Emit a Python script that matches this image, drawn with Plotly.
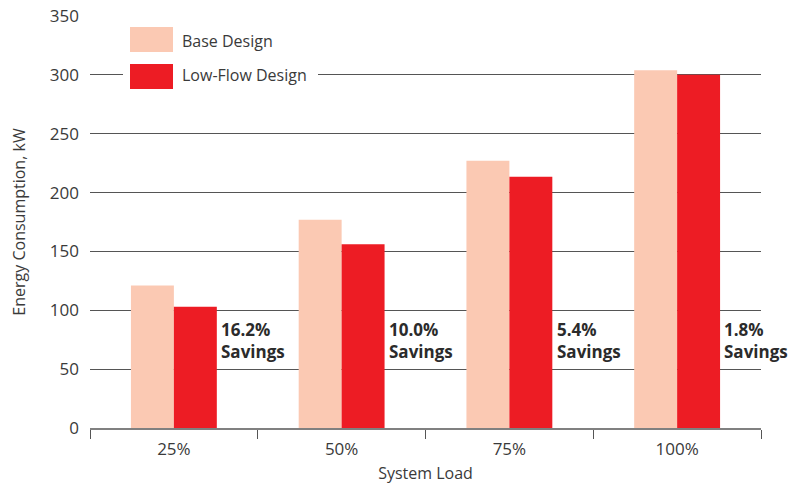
import plotly.graph_objects as go

categories = ["25%", "50%", "75%", "100%"]
base_design = [121, 177, 227, 304]
low_flow_design = [103, 156, 213.5, 300]
savings_labels = ["16.2%<br>Savings", "10.0%<br>Savings", "5.4%<br>Savings", "1.8%<br>Savings"]
series_names = ["Base Design", "Low-Flow Design"]
series_colors = ["#FBC9B3", "#ED1C24"]
y_ticks = [0, 50, 100, 150, 200, 250, 300, 350]

FONT = "Open Sans"
TXT = "#3a3a3a"

W, H = 791, 484
L, R, T, B = 90, 30, 16, 56
PW, PH = W - L - R, H - T - B

def px(x):
    return (x - L) / PW

def py(y):
    return (H - B - y) / PH

fig = go.Figure()
for name, vals, col in zip(series_names, [base_design, low_flow_design], series_colors):
    fig.add_trace(go.Bar(x=categories, y=vals, name=name, marker_color=col,
                         marker_line_width=0, showlegend=False))

annotations = []
for i, lab in enumerate(savings_labels):
    annotations.append(dict(x=i + 0.27, y=74, xref="x", yref="y", text=lab, showarrow=False,
                            xanchor="left", yanchor="middle", align="left",
                            font=dict(family=FONT, size=17, color="#2b2b2b", weight="bold")))

shapes = []
# legend background (hides gridline)
shapes.append(dict(type="rect", xref="paper", yref="paper", x0=px(123), x1=px(318), y0=py(95), y1=py(20),
                   fillcolor="white", line_width=0, layer="above"))
legend_rows = [(27, 52, 41), (64, 89, 75)]
for (y0, y1, yc), name, col in zip(legend_rows, series_names, series_colors):
    shapes.append(dict(type="rect", xref="paper", yref="paper", x0=px(130), x1=px(173), y0=py(y1), y1=py(y0),
                       fillcolor=col, line_width=0, layer="above"))
    annotations.append(dict(x=px(180), y=py(yc), xref="paper", yref="paper", text=name, showarrow=False,
                            xanchor="left", yanchor="middle",
                            font=dict(family=FONT, size=16, color=TXT)))

fig.update_layout(
    width=W, height=H,
    margin=dict(l=L, r=R, t=T, b=B),
    barmode="group", bargap=0.488, bargroupgap=0,
    plot_bgcolor="white", paper_bgcolor="white",
    font=dict(family=FONT, size=16, color=TXT),
    annotations=annotations, shapes=shapes,
    xaxis=dict(title=dict(text="System Load", font=dict(size=16, color=TXT), standoff=9),
               range=[-0.5, 3.5], automargin=False,
               showline=True, linecolor="#808080", linewidth=1.5,
               ticks="outside", tickson="boundaries", ticklen=9, tickcolor="#555", tickwidth=1,
               ticklabelstandoff=5,
               tickfont=dict(size=17, color=TXT), showgrid=False),
    yaxis=dict(title=dict(text="Energy Consumption, kW", font=dict(size=16, color=TXT), standoff=20),
               range=[0, 350], tickvals=y_ticks, showgrid=True, gridcolor="#555", gridwidth=1,
               automargin=False,
               zeroline=False, showline=False, ticks="", ticklabelstandoff=10,
               tickfont=dict(size=17, color=TXT)),
)

fig.write_html("out.html")
